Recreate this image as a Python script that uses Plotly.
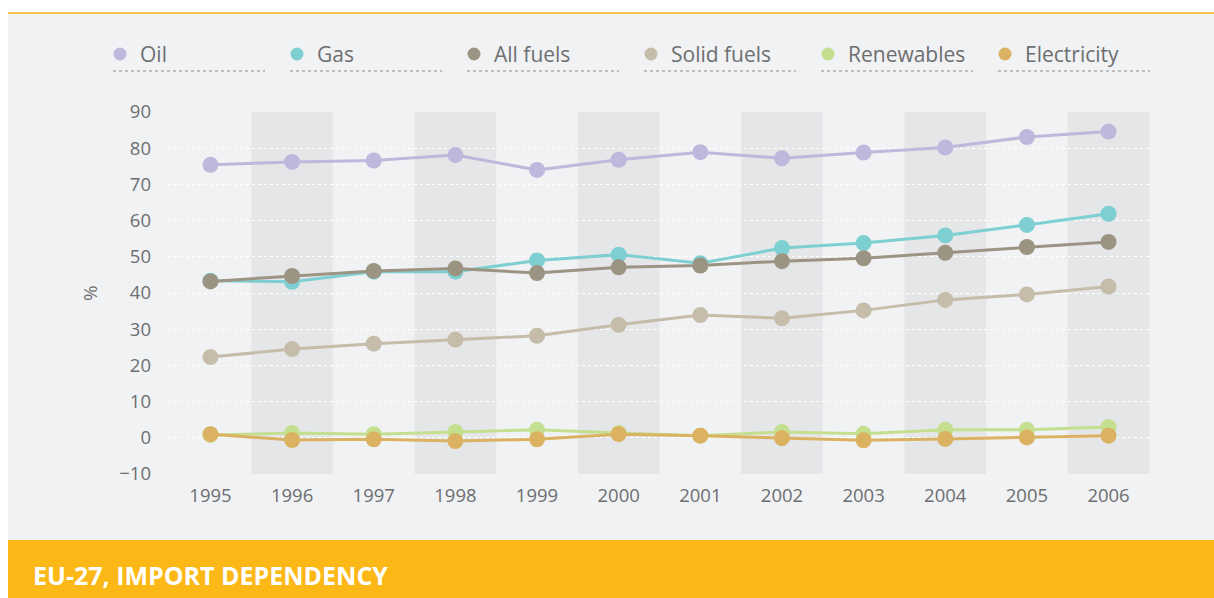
import plotly.graph_objects as go

years = [1995, 1996, 1997, 1998, 1999, 2000, 2001, 2002, 2003, 2004, 2005, 2006]
oil = [75.4, 76.2, 76.6, 78.1, 74.0, 76.8, 78.9, 77.2, 78.8, 80.2, 83.1, 84.6]
gas = [43.4, 43.1, 45.9, 45.9, 49.0, 50.6, 48.2, 52.4, 53.8, 55.9, 58.8, 61.9]
all_fuels = [43.2, 44.7, 46.1, 46.8, 45.5, 47.1, 47.6, 48.8, 49.6, 51.1, 52.7, 54.1]
solid_fuels = [22.3, 24.5, 26.0, 27.1, 28.2, 31.2, 33.9, 33.0, 35.2, 38.1, 39.6, 41.8]
renewables = [0.8, 1.3, 1.0, 1.6, 2.2, 1.3, 0.6, 1.6, 1.1, 2.2, 2.2, 3.0]
electricity = [1.0, -0.6, -0.4, -0.9, -0.4, 1.0, 0.6, -0.1, -0.7, -0.3, 0.1, 0.6]

series_names = ["Oil", "Gas", "All fuels", "Solid fuels", "Renewables", "Electricity"]
series_values = [oil, gas, all_fuels, solid_fuels, renewables, electricity]
series_colors = ["#bdb9dc", "#7ecfd1", "#9c9483", "#c5bca9", "#c4df8f", "#dbb262"]

y_ticks = [-10, 0, 10, 20, 30, 40, 50, 60, 70, 80, 90]
title_text = "EU-27, IMPORT DEPENDENCY"

W, H = 1214, 598
L, R, T, B = 168, 1151, 112, 474  # plot area pixel bounds
XR = [1994.48, 2006.52]

def px(x):
    return (x - L) / (R - L)

def py(y):
    return (B - y) / (B - T)

fig = go.Figure()

draw_order = [3, 4, 5, 1, 2, 0]
for i in draw_order:
    fig.add_trace(go.Scatter(
        x=years, y=series_values[i], name=series_names[i], mode="lines+markers",
        line=dict(color=series_colors[i], width=3),
        marker=dict(color=series_colors[i], size=16),
        showlegend=False, cliponaxis=False,
    ))

shapes = []
shapes.append(dict(type="rect", xref="paper", yref="paper", x0=px(8), x1=px(1216), y0=py(540), y1=py(13),
                   fillcolor="#f1f2f4", line=dict(width=0), layer="below"))
shapes.append(dict(type="line", xref="paper", yref="paper", x0=px(8), x1=px(1216), y0=py(13), y1=py(13),
                   line=dict(color="#f6c64e", width=2), layer="below"))
shapes.append(dict(type="rect", xref="paper", yref="paper", x0=px(8), x1=px(1216), y0=py(600), y1=py(540),
                   fillcolor="#fbb817", line=dict(width=0), layer="below"))
for yr in years:
    if yr % 2 == 0:
        shapes.append(dict(type="rect", xref="x", yref="paper", x0=yr - 0.5, x1=min(yr + 0.5, XR[1]),
                           y0=0, y1=1, fillcolor="#e5e6e8", line=dict(width=0), layer="below"))

annotations = []
leg_x = [120, 297, 474, 651, 828, 1005]
for i, name in enumerate(series_names):
    cx = leg_x[i]
    shapes.append(dict(type="circle", xref="paper", yref="paper", xsizemode="pixel", ysizemode="pixel",
                       xanchor=px(cx), yanchor=py(54), x0=-6.5, x1=6.5, y0=-6.5, y1=6.5,
                       fillcolor=series_colors[i], line=dict(width=0)))
    shapes.append(dict(type="line", xref="paper", yref="paper", x0=px(cx - 7), x1=px(cx + 145),
                       y0=py(71), y1=py(71), line=dict(color="#8a8b8d", width=1, dash="dot")))
    annotations.append(dict(text=name, xref="paper", yref="paper", x=px(cx + 18), y=py(54),
                            xanchor="left", yanchor="middle", showarrow=False,
                            font=dict(family="Open Sans", size=21, color="#6d6e70")))

annotations.append(dict(text="%", xref="paper", yref="paper", x=px(90), y=py(293), textangle=-90,
                        xanchor="center", yanchor="middle", showarrow=False,
                        font=dict(family="Open Sans", size=19, color="#6d6e70")))
annotations.append(dict(text="<b>" + title_text + "</b>", xref="paper", yref="paper", x=px(31), y=py(575),
                        xanchor="left", yanchor="middle", showarrow=False,
                        font=dict(family="Open Sans", size=25, color="#ffffff")))

fig.update_layout(
    width=W, height=H,
    margin=dict(l=L, r=W - R, t=T, b=H - B, pad=0),
    paper_bgcolor="#ffffff", plot_bgcolor="rgba(0,0,0,0)",
    shapes=shapes, annotations=annotations, showlegend=False,
    font=dict(family="Open Sans", color="#6d6e70"),
    xaxis=dict(range=XR, tickvals=years, ticktext=[str(y) for y in years], showgrid=False,
               zeroline=False, showline=False, ticks="", tickfont=dict(size=18.5, color="#6d6e70"),
               ticklabelstandoff=8, fixedrange=True),
    yaxis=dict(range=[-10, 90], tickvals=y_ticks, showgrid=True, gridcolor="#ffffff", griddash="dot",
               gridwidth=1.2, zeroline=False, showline=False, ticks="",
               tickfont=dict(size=18.5, color="#6d6e70"), ticklabelstandoff=16, fixedrange=True),
)

fig.write_html("out.html", config={"displayModeBar": False},
               post_script="document.body.style.margin='0';document.body.style.overflow='hidden';")
